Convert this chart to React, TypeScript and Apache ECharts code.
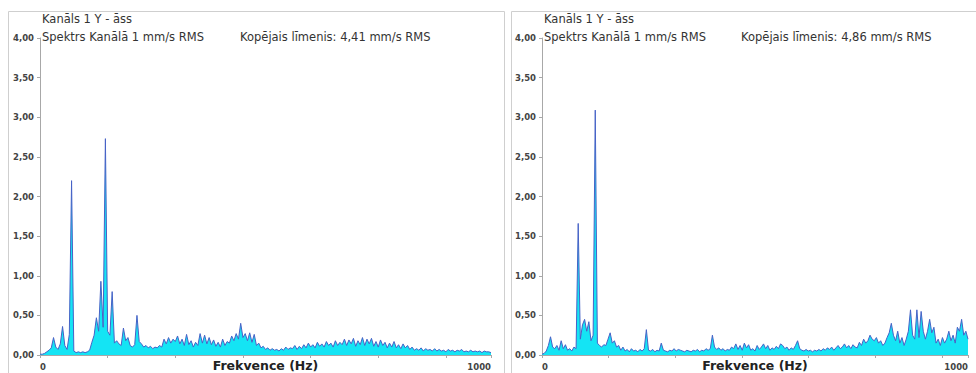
import React, { useEffect, useRef } from "react";
import * as echarts from "echarts";

// Spectrum amplitudes (mm/s RMS), one value per 5 Hz bin, 0 … 1000 Hz
const FREQ_STEP_HZ = 5;

const leftAmplitude = [
  0.01, 0.01, 0.02, 0.04, 0.06, 0.09, 0.22, 0.10, 0.07, 0.14,
  0.36, 0.12, 0.07, 0.26, 2.20, 0.05, 0.03, 0.04, 0.03, 0.04,
  0.03, 0.04, 0.06, 0.16, 0.25, 0.47, 0.30, 0.93, 0.35, 2.73,
  0.30, 0.25, 0.80, 0.15, 0.18, 0.14, 0.12, 0.34, 0.18, 0.22,
  0.12, 0.10, 0.13, 0.50, 0.17, 0.14, 0.10, 0.12, 0.09, 0.11,
  0.08, 0.10, 0.09, 0.12, 0.10, 0.20, 0.14, 0.22, 0.15, 0.20,
  0.17, 0.24, 0.14, 0.20, 0.12, 0.26, 0.13, 0.18, 0.10, 0.16,
  0.12, 0.27, 0.15, 0.25, 0.14, 0.22, 0.13, 0.19, 0.11, 0.16,
  0.10, 0.20, 0.12, 0.17, 0.15, 0.24, 0.18, 0.27, 0.20, 0.40,
  0.22, 0.27, 0.18, 0.28, 0.16, 0.26, 0.12, 0.15, 0.09, 0.11,
  0.07, 0.09, 0.06, 0.08, 0.06, 0.07, 0.05, 0.08, 0.06, 0.10,
  0.07, 0.09, 0.08, 0.12, 0.07, 0.11, 0.08, 0.13, 0.09, 0.15,
  0.10, 0.13, 0.09, 0.16, 0.11, 0.14, 0.10, 0.17, 0.12, 0.15,
  0.10, 0.18, 0.12, 0.16, 0.13, 0.20, 0.12, 0.19, 0.14, 0.21,
  0.11, 0.18, 0.13, 0.22, 0.12, 0.20, 0.14, 0.21, 0.11, 0.17,
  0.10, 0.19, 0.12, 0.16, 0.09, 0.15, 0.10, 0.17, 0.09, 0.13,
  0.08, 0.14, 0.09, 0.12, 0.07, 0.10, 0.06, 0.08, 0.06, 0.09,
  0.05, 0.08, 0.06, 0.07, 0.05, 0.08, 0.05, 0.07, 0.05, 0.06,
  0.04, 0.07, 0.05, 0.06, 0.04, 0.06, 0.05, 0.07, 0.04, 0.05,
  0.04, 0.06, 0.04, 0.05, 0.04, 0.05, 0.03, 0.05, 0.04, 0.04,
  0.03,
];

const rightAmplitude = [
  0.01, 0.02, 0.05, 0.12, 0.23, 0.10, 0.08, 0.12, 0.06, 0.18,
  0.08, 0.13, 0.06, 0.08, 0.05, 0.10, 0.08, 1.66, 0.20, 0.38,
  0.45, 0.30, 0.42, 0.18, 0.25, 3.09, 0.15, 0.12, 0.10, 0.13,
  0.12, 0.20, 0.28, 0.15, 0.18, 0.10, 0.12, 0.06, 0.10, 0.05,
  0.07, 0.04, 0.08, 0.05, 0.06, 0.04, 0.07, 0.05, 0.08, 0.32,
  0.06, 0.05, 0.07, 0.04, 0.06, 0.05, 0.15, 0.06, 0.05, 0.04,
  0.06, 0.05, 0.08, 0.05, 0.07, 0.06, 0.05, 0.04, 0.06, 0.05,
  0.04, 0.06, 0.05, 0.07, 0.04, 0.06, 0.05, 0.08, 0.06, 0.08,
  0.25, 0.10, 0.07, 0.09, 0.06, 0.08, 0.05, 0.07, 0.06, 0.10,
  0.08, 0.14, 0.07, 0.12, 0.06, 0.15, 0.09, 0.13, 0.06, 0.08,
  0.05, 0.12, 0.07, 0.10, 0.14, 0.08, 0.12, 0.06, 0.09, 0.07,
  0.11, 0.08, 0.14, 0.12, 0.08, 0.10, 0.06, 0.09, 0.07, 0.12,
  0.18, 0.08, 0.06, 0.05, 0.07, 0.05, 0.06, 0.04, 0.06, 0.05,
  0.07, 0.05, 0.08, 0.06, 0.09, 0.07, 0.10, 0.06, 0.09, 0.12,
  0.08, 0.10, 0.14, 0.09, 0.12, 0.08, 0.13, 0.10, 0.09, 0.16,
  0.12, 0.20, 0.15, 0.18, 0.25, 0.20, 0.18, 0.22, 0.15, 0.18,
  0.12, 0.15, 0.22, 0.28, 0.40, 0.25, 0.18, 0.30, 0.15, 0.22,
  0.12, 0.20, 0.30, 0.57, 0.25, 0.20, 0.57, 0.22, 0.55, 0.30,
  0.20, 0.30, 0.45, 0.28, 0.35, 0.15, 0.20, 0.12, 0.22, 0.15,
  0.20, 0.30, 0.18, 0.25, 0.15, 0.35, 0.30, 0.45, 0.25, 0.30,
  0.20,
];

const channelTitle = "Kanāls 1 Y - āss";
const spectrumTitle = "Spektrs Kanālā 1 mm/s RMS";
const leftTotal = "Kopējais līmenis: 4,41 mm/s RMS";
const rightTotal = "Kopējais līmenis: 4,86 mm/s RMS";
const xAxisTitle = "Frekvence (Hz)";

const Y_MIN = 0;
const Y_MAX = 4;
const Y_STEP = 0.5;
const X_MIN = 0;
const X_MAX = 1000;
const LEFT_X_TICK_STEP = 150;
const RIGHT_X_TICK_STEP = 156.5;

const toPairs = (amps: number[]) => amps.map((v, i) => [i * FREQ_STEP_HZ, v]);

const FONT = "DejaVu Sans";
const LINE_COLOR = "#4762c6";
const FILL_COLOR = "#14e4f4";
const AXIS_COLOR = "#a8a8a8";
const PANEL_COLOR = "#cfcfcf";

const GRIDS = [
  { left: 40, top: 38, width: 451, height: 317 },
  { left: 542, top: 38, width: 426, height: 317 },
];

function makeX(gridIndex: number, step: number) {
  return {
    type: "value",
    gridIndex,
    min: X_MIN,
    max: X_MAX,
    interval: step,
    axisLine: { show: true, onZero: false, lineStyle: { color: AXIS_COLOR, width: 1 } },
    axisTick: { show: true, length: 3, lineStyle: { color: AXIS_COLOR } },
    splitLine: { show: false },
    axisLabel: {
      show: true,
      showMinLabel: true,
      showMaxLabel: true,
      alignMinLabel: "left",
      alignMaxLabel: "right",
      margin: 7,
      fontFamily: FONT,
      fontWeight: "bold",
      fontSize: 8.5,
      color: "#444",
      formatter: (v: number) => (v === X_MIN || v === X_MAX ? String(v) : ""),
    },
  };
}

function makeY(gridIndex: number) {
  return {
    type: "value",
    gridIndex,
    min: Y_MIN,
    max: Y_MAX,
    interval: Y_STEP,
    axisLine: { show: true, lineStyle: { color: AXIS_COLOR, width: 1 } },
    axisTick: { show: true, length: 3, lineStyle: { color: AXIS_COLOR } },
    splitLine: { show: false },
    axisLabel: {
      margin: 6,
      fontFamily: FONT,
      fontWeight: "bold",
      fontSize: 8.5,
      color: "#444",
      formatter: (v: number) => v.toFixed(2).replace(".", ","),
    },
  };
}

function makeSeries(idx: number, amps: number[]) {
  return {
    type: "line",
    xAxisIndex: idx,
    yAxisIndex: idx,
    data: toPairs(amps),
    symbol: "none",
    showSymbol: false,
    lineStyle: { color: LINE_COLOR, width: 1 },
    areaStyle: { color: FILL_COLOR, opacity: 1 },
    silent: true,
  };
}

function headerTexts(x1: number, x2: number, total: string) {
  const st = { fontFamily: FONT, fontSize: 11.5, fill: "#333" };
  return [
    { type: "text", left: x1, top: 13, style: { ...st, text: channelTitle } },
    { type: "text", left: x1, top: 31, style: { ...st, text: spectrumTitle } },
    { type: "text", left: x2, top: 31, style: { ...st, text: total } },
  ];
}

function axisTitle(g: { left: number; width: number }) {
  return {
    type: "text",
    x: g.left + g.width / 2,
    y: 359,
    style: {
      text: xAxisTitle,
      fontFamily: FONT,
      fontWeight: "bold",
      fontSize: 12.5,
      fill: "#222",
      align: "center",
      verticalAlign: "top",
    },
  };
}

export default function App() {
  const ref = useRef<HTMLDivElement>(null);
  useEffect(() => {
    document.body.style.margin = "0";
    if (!ref.current) return;
    const chart = echarts.init(ref.current, undefined, { renderer: "svg" });
    chart.setOption({
      animation: false,
      backgroundColor: "#ffffff",
      grid: GRIDS.map((g) => ({ ...g, containLabel: false, outerBoundsMode: "none" })),
      xAxis: [makeX(0, LEFT_X_TICK_STEP), makeX(1, RIGHT_X_TICK_STEP)],
      yAxis: [makeY(0), makeY(1)],
      series: [makeSeries(0, leftAmplitude), makeSeries(1, rightAmplitude)],
      graphic: [
        {
          type: "rect",
          shape: { x: 8.5, y: 11.5, width: 496, height: 420 },
          style: { fill: "none", stroke: PANEL_COLOR, lineWidth: 1 },
          silent: true,
          z: -1,
        },
        {
          type: "rect",
          shape: { x: 511.5, y: 11.5, width: 500, height: 420 },
          style: { fill: "none", stroke: PANEL_COLOR, lineWidth: 1 },
          silent: true,
          z: -1,
        },
        ...headerTexts(42, 240, leftTotal),
        ...headerTexts(544, 741, rightTotal),
        axisTitle(GRIDS[0]),
        axisTitle(GRIDS[1]),
      ],
    });
    return () => chart.dispose();
  }, []);
  return <div ref={ref} style={{ width: 976, height: 373 }} />;
}
